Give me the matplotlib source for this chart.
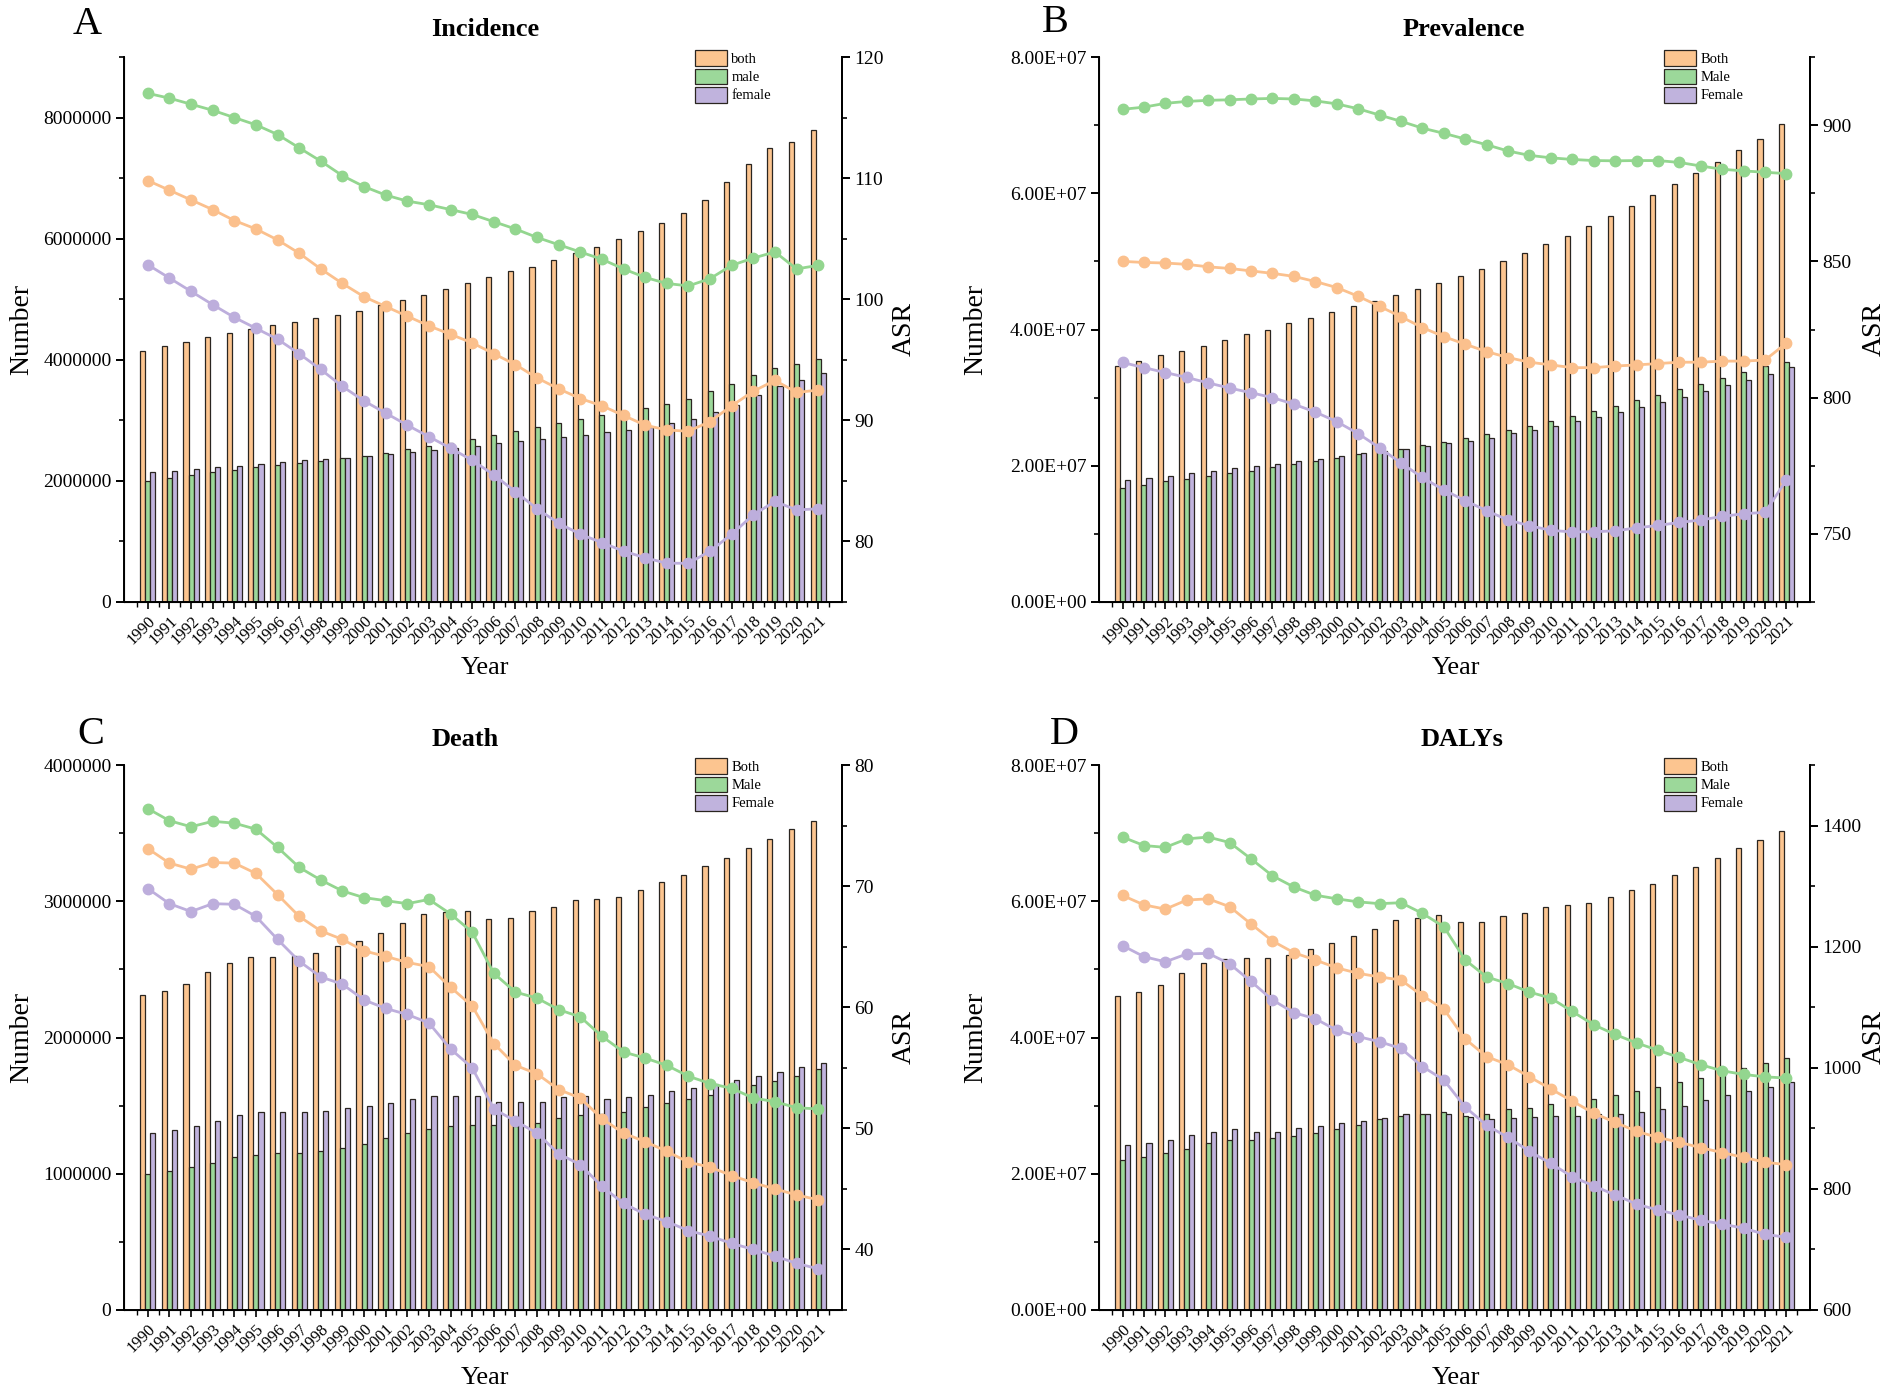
import numpy as np
import matplotlib
matplotlib.use("Agg")
import matplotlib.pyplot as plt
from matplotlib.patches import Patch
from matplotlib.ticker import MultipleLocator, FuncFormatter, FixedLocator

plt.rcParams['font.family'] = ['Liberation Serif', 'DejaVu Serif']

years = list(range(1990, 2022))

# ---------------- Incidence ----------------
inc_both_n = [4.15e6, 4.23e6, 4.30e6, 4.37e6, 4.44e6, 4.51e6, 4.57e6, 4.63e6, 4.69e6, 4.74e6,
              4.81e6, 4.90e6, 4.99e6, 5.07e6, 5.17e6, 5.27e6, 5.37e6, 5.46e6, 5.54e6, 5.64e6,
              5.76e6, 5.87e6, 5.99e6, 6.12e6, 6.26e6, 6.42e6, 6.64e6, 6.93e6, 7.23e6, 7.50e6,
              7.60e6, 7.80e6]
inc_male_n = [2.00e6, 2.05e6, 2.10e6, 2.14e6, 2.18e6, 2.23e6, 2.26e6, 2.30e6, 2.33e6, 2.37e6,
              2.41e6, 2.46e6, 2.52e6, 2.57e6, 2.63e6, 2.69e6, 2.76e6, 2.83e6, 2.89e6, 2.96e6,
              3.02e6, 3.08e6, 3.13e6, 3.20e6, 3.27e6, 3.36e6, 3.48e6, 3.60e6, 3.75e6, 3.87e6,
              3.93e6, 4.02e6]
inc_female_n = [2.14e6, 2.17e6, 2.20e6, 2.23e6, 2.25e6, 2.28e6, 2.31e6, 2.34e6, 2.36e6, 2.38e6,
                2.41e6, 2.45e6, 2.48e6, 2.51e6, 2.54e6, 2.58e6, 2.62e6, 2.66e6, 2.70e6, 2.73e6,
                2.76e6, 2.80e6, 2.84e6, 2.89e6, 2.95e6, 3.03e6, 3.13e6, 3.26e6, 3.42e6, 3.57e6,
                3.67e6, 3.78e6]
inc_both_asr = [109.8, 109.0, 108.2, 107.4, 106.5, 105.8, 104.9, 103.8, 102.5, 101.3,
                100.2, 99.4, 98.6, 97.8, 97.1, 96.4, 95.5, 94.6, 93.5, 92.6,
                91.8, 91.2, 90.4, 89.6, 89.2, 89.1, 89.9, 91.2, 92.4, 93.3,
                92.3, 92.5]
inc_male_asr = [117.0, 116.6, 116.1, 115.6, 115.0, 114.4, 113.6, 112.5, 111.4, 110.2,
                109.3, 108.6, 108.1, 107.8, 107.4, 107.0, 106.4, 105.8, 105.1, 104.5,
                103.9, 103.3, 102.5, 101.8, 101.3, 101.1, 101.7, 102.8, 103.4, 103.9,
                102.5, 102.8]
inc_female_asr = [102.85, 101.75, 100.65, 99.55, 98.5, 97.6, 96.7, 95.5, 94.2, 92.8,
                  91.6, 90.6, 89.6, 88.65, 87.7, 86.7, 85.5, 84.1, 82.7, 81.5,
                  80.6, 79.9, 79.2, 78.65, 78.2, 78.2, 79.2, 80.6, 82.2, 83.3,
                  82.6, 82.7]

# ---------------- Prevalence ----------------
prev_both_n = [3.47e7, 3.54e7, 3.62e7, 3.69e7, 3.76e7, 3.84e7, 3.93e7, 4.00e7, 4.09e7, 4.17e7,
               4.25e7, 4.34e7, 4.42e7, 4.50e7, 4.59e7, 4.68e7, 4.78e7, 4.89e7, 5.00e7, 5.12e7,
               5.25e7, 5.37e7, 5.52e7, 5.66e7, 5.82e7, 5.98e7, 6.14e7, 6.29e7, 6.46e7, 6.63e7,
               6.79e7, 7.01e7]
prev_male_n = [1.68e7, 1.72e7, 1.77e7, 1.81e7, 1.85e7, 1.89e7, 1.93e7, 1.98e7, 2.03e7, 2.07e7,
               2.11e7, 2.17e7, 2.22e7, 2.25e7, 2.31e7, 2.35e7, 2.41e7, 2.47e7, 2.53e7, 2.59e7,
               2.66e7, 2.73e7, 2.80e7, 2.88e7, 2.96e7, 3.04e7, 3.12e7, 3.20e7, 3.29e7, 3.38e7,
               3.47e7, 3.52e7]
prev_female_n = [1.79e7, 1.82e7, 1.85e7, 1.89e7, 1.92e7, 1.96e7, 1.99e7, 2.03e7, 2.07e7, 2.10e7,
                 2.14e7, 2.18e7, 2.22e7, 2.25e7, 2.29e7, 2.33e7, 2.37e7, 2.41e7, 2.48e7, 2.52e7,
                 2.58e7, 2.65e7, 2.71e7, 2.79e7, 2.86e7, 2.93e7, 3.01e7, 3.09e7, 3.18e7, 3.26e7,
                 3.35e7, 3.45e7]
prev_both_asr = [850.0, 849.6, 849.4, 848.9, 848.0, 847.4, 846.5, 845.6, 844.5, 842.6,
                 840.4, 837.2, 833.5, 829.7, 825.7, 822.4, 819.6, 816.9, 814.7, 813.0,
                 812.0, 811.0, 811.0, 811.6, 812.0, 812.5, 813.0, 813.0, 813.4, 813.4,
                 813.8, 820.0]
prev_male_asr = [905.8, 906.6, 908.0, 908.7, 909.1, 909.3, 909.6, 909.8, 909.6, 908.9,
                 907.8, 906.0, 903.7, 901.4, 898.9, 897.0, 894.9, 892.8, 890.5, 888.9,
                 888.0, 887.4, 887.0, 886.9, 887.0, 887.0, 886.3, 885.0, 883.8, 883.2,
                 882.7, 882.2]
prev_female_asr = [812.9, 811.0, 809.2, 807.4, 805.4, 803.5, 801.8, 800.0, 797.6, 794.7,
                   791.2, 786.8, 781.6, 776.0, 770.7, 766.1, 762.2, 758.5, 755.1, 753.0,
                   751.3, 750.7, 750.8, 751.1, 752.2, 753.1, 754.2, 755.1, 756.4, 757.4,
                   757.9, 769.8]

# ---------------- Death ----------------
death_both_n = [2.31e6, 2.34e6, 2.39e6, 2.48e6, 2.55e6, 2.59e6, 2.59e6, 2.60e6, 2.62e6, 2.67e6,
                2.71e6, 2.77e6, 2.84e6, 2.91e6, 2.92e6, 2.93e6, 2.87e6, 2.88e6, 2.93e6, 2.96e6,
                3.01e6, 3.02e6, 3.03e6, 3.08e6, 3.14e6, 3.19e6, 3.26e6, 3.32e6, 3.39e6, 3.46e6,
                3.53e6, 3.59e6]
death_male_n = [1.00e6, 1.02e6, 1.05e6, 1.08e6, 1.12e6, 1.14e6, 1.15e6, 1.155e6, 1.167e6, 1.19e6,
                1.22e6, 1.26e6, 1.30e6, 1.33e6, 1.35e6, 1.36e6, 1.36e6, 1.35e6, 1.37e6, 1.41e6,
                1.43e6, 1.44e6, 1.45e6, 1.49e6, 1.52e6, 1.55e6, 1.58e6, 1.61e6, 1.65e6, 1.68e6,
                1.72e6, 1.77e6]
death_female_n = [1.30e6, 1.32e6, 1.35e6, 1.39e6, 1.43e6, 1.45e6, 1.45e6, 1.45e6, 1.46e6, 1.48e6,
                  1.50e6, 1.52e6, 1.55e6, 1.57e6, 1.57e6, 1.57e6, 1.53e6, 1.53e6, 1.53e6, 1.56e6,
                  1.57e6, 1.55e6, 1.56e6, 1.58e6, 1.61e6, 1.63e6, 1.66e6, 1.69e6, 1.72e6, 1.75e6,
                  1.78e6, 1.81e6]
death_both_asr = [73.1, 71.9, 71.4, 71.95, 71.9, 71.05, 69.3, 67.5, 66.3, 65.6,
                  64.65, 64.2, 63.7, 63.35, 61.65, 60.1, 57.0, 55.2, 54.5, 53.2,
                  52.5, 50.8, 49.6, 48.9, 48.1, 47.2, 46.8, 46.1, 45.5, 45.0,
                  44.5, 44.1]
death_male_asr = [76.4, 75.4, 74.9, 75.35, 75.2, 74.7, 73.2, 71.55, 70.5, 69.6,
                  69.05, 68.8, 68.55, 68.9, 67.7, 66.2, 62.8, 61.25, 60.75, 59.8,
                  59.2, 57.6, 56.3, 55.8, 55.2, 54.3, 53.7, 53.3, 52.5, 52.2,
                  51.7, 51.6]
death_female_asr = [69.8, 68.55, 67.9, 68.55, 68.5, 67.5, 65.6, 63.8, 62.5, 61.9,
                    60.6, 59.9, 59.4, 58.7, 56.55, 55.0, 51.6, 50.6, 49.6, 47.9,
                    47.0, 45.2, 43.8, 42.9, 42.3, 41.55, 41.1, 40.5, 40.0, 39.45,
                    38.85, 38.4]

# ---------------- DALYs ----------------
daly_both_n = [4.61e7, 4.67e7, 4.77e7, 4.95e7, 5.09e7, 5.15e7, 5.16e7, 5.17e7, 5.21e7, 5.30e7,
               5.38e7, 5.49e7, 5.60e7, 5.73e7, 5.75e7, 5.80e7, 5.70e7, 5.70e7, 5.78e7, 5.83e7,
               5.92e7, 5.95e7, 5.97e7, 6.06e7, 6.16e7, 6.26e7, 6.38e7, 6.50e7, 6.64e7, 6.78e7,
               6.90e7, 7.03e7]
daly_male_n = [2.20e7, 2.25e7, 2.30e7, 2.37e7, 2.45e7, 2.50e7, 2.50e7, 2.52e7, 2.55e7, 2.60e7,
               2.65e7, 2.72e7, 2.80e7, 2.85e7, 2.87e7, 2.90e7, 2.85e7, 2.87e7, 2.95e7, 2.97e7,
               3.02e7, 3.05e7, 3.10e7, 3.15e7, 3.22e7, 3.27e7, 3.35e7, 3.40e7, 3.47e7, 3.55e7,
               3.62e7, 3.70e7]
daly_female_n = [2.42e7, 2.45e7, 2.50e7, 2.57e7, 2.62e7, 2.65e7, 2.62e7, 2.62e7, 2.67e7, 2.70e7,
                 2.75e7, 2.78e7, 2.82e7, 2.87e7, 2.88e7, 2.87e7, 2.83e7, 2.80e7, 2.82e7, 2.83e7,
                 2.85e7, 2.85e7, 2.87e7, 2.88e7, 2.90e7, 2.95e7, 3.00e7, 3.08e7, 3.15e7, 3.22e7,
                 3.28e7, 3.35e7]
daly_both_asr = [1284.5, 1269, 1262, 1277, 1279, 1266, 1237.5, 1209.4, 1190, 1178,
                 1165, 1156, 1150, 1145, 1119, 1097, 1047.6, 1018.4, 1005, 985,
                 965, 945, 925, 910, 895, 885, 877, 868, 860, 852,
                 844, 840]
daly_male_asr = [1381, 1367, 1364, 1378, 1381, 1372, 1345, 1317, 1298.5, 1285,
                 1279, 1274, 1271, 1272.6, 1255, 1233, 1178, 1150, 1139, 1125,
                 1115, 1093, 1071, 1055, 1041, 1029, 1017, 1005, 995, 989,
                 985, 983]
daly_female_asr = [1201.7, 1183.5, 1175, 1188, 1189, 1171.6, 1142.5, 1112, 1091, 1081,
                   1062, 1051.5, 1043, 1032, 1002, 980, 935, 905, 885, 862,
                   842, 820, 805, 790, 775, 765, 757, 748, 742, 735,
                   725, 720]

ORANGE_BAR = '#FCC590'
GREEN_BAR = '#9CD89A'
PURPLE_BAR = '#C0B3DD'
ORANGE_LN = '#FBC08D'
GREEN_LN = '#93D68F'
PURPLE_LN = '#BDAEDC'
EDGE = '#2a2520'

W, H = 1902, 1393
fig = plt.figure(figsize=(W / 100, H / 100), dpi=100)


def px_axes(x0, y0, x1, y1):
    return fig.add_axes([x0 / W, 1 - y1 / H, (x1 - x0) / W, (y1 - y0) / H])


def ftext(x, y, s, **kw):
    fig.text(x / W, 1 - y / H, s, ha='center', va='center', **kw)


def panel(box, both_n, male_n, female_n, both_a, male_a, female_a,
          ylim, ymaj, ymin, yfmt, rlim, rmaj, rmin, labels, title, letter,
          title_xy, letter_xy, num_xy, asr_xy, year_xy):
    ax = px_axes(*box)
    x = np.arange(len(years))
    bw = 0.235
    ax.bar(x - bw, both_n, bw, color=ORANGE_BAR, edgecolor=EDGE, linewidth=0.9, zorder=2)
    ax.bar(x, male_n, bw, color=GREEN_BAR, edgecolor=EDGE, linewidth=0.9, zorder=2)
    ax.bar(x + bw, female_n, bw, color=PURPLE_BAR, edgecolor=EDGE, linewidth=0.9, zorder=2)
    ax.set_xlim(-1.1, len(years) - 1 + 1.1)
    ax.set_ylim(*ylim)
    ax.yaxis.set_major_locator(MultipleLocator(ymaj))
    ax.yaxis.set_minor_locator(MultipleLocator(ymin))
    ax.yaxis.set_major_formatter(FuncFormatter(yfmt))
    ax.set_xticks(x)
    ax.set_xticklabels([str(y) for y in years], rotation=45, ha='right',
                       rotation_mode='anchor', fontsize=12)
    ax.xaxis.set_minor_locator(FixedLocator(np.arange(-0.5, len(years) + 0.5, 1.0)))
    ax.spines['top'].set_visible(False)
    for s in ['left', 'bottom', 'right']:
        ax.spines[s].set_linewidth(1.4)
    ax.tick_params(axis='y', which='major', labelsize=14, length=6, width=1.4,
                   direction='out', pad=3)
    ax.tick_params(axis='y', which='minor', length=3.5, width=1.2, direction='out')
    ax.tick_params(axis='x', which='major', length=5, width=1.2, direction='out', pad=3)
    ax.tick_params(axis='x', which='minor', length=3.5, width=1.0, direction='out')

    ax2 = ax.twinx()
    ax2.plot(x, both_a, color=ORANGE_LN, lw=2.0, marker='o', ms=7.5, zorder=3)
    ax2.plot(x, male_a, color=GREEN_LN, lw=2.0, marker='o', ms=7.5, zorder=3)
    ax2.plot(x, female_a, color=PURPLE_LN, lw=2.0, marker='o', ms=7.5, zorder=3)
    ax2.set_ylim(*rlim)
    ax2.yaxis.set_major_locator(MultipleLocator(rmaj))
    ax2.yaxis.set_minor_locator(MultipleLocator(rmin))
    ax2.spines['top'].set_visible(False)
    ax2.spines['right'].set_linewidth(1.4)
    ax2.tick_params(axis='y', which='major', labelsize=14, length=6, width=1.4,
                    direction='out', pad=3)
    ax2.tick_params(axis='y', which='minor', length=3.5, width=1.2, direction='out')

    handles = [Patch(facecolor=ORANGE_BAR, edgecolor=EDGE, linewidth=0.9),
               Patch(facecolor=GREEN_BAR, edgecolor=EDGE, linewidth=0.9),
               Patch(facecolor=PURPLE_BAR, edgecolor=EDGE, linewidth=0.9)]
    ax2.legend(handles, labels, loc='upper left', bbox_to_anchor=(0.795, 1.012),
               frameon=False, fontsize=10.5, handlelength=2.2, handleheight=1.3,
               labelspacing=0.15, handletextpad=0.3, borderpad=0, borderaxespad=0)

    ftext(*title_xy, title, fontsize=19, fontweight='bold')
    ftext(*letter_xy, letter, fontsize=29)
    ftext(*num_xy, 'Number', fontsize=20, rotation=90)
    ftext(*asr_xy, 'ASR', fontsize=20, rotation=90)
    ftext(*year_xy, 'Year', fontsize=19)
    return ax, ax2


int_fmt = lambda v, p: f"{int(round(v))}"
sci_fmt = lambda v, p: f"{v:.2E}"

panel((124, 57, 842, 602), inc_both_n, inc_male_n, inc_female_n,
      inc_both_asr, inc_male_asr, inc_female_asr,
      (0, 9e6), 2e6, 1e6, int_fmt, (75, 120), 10, 5,
      ['both', 'male', 'female'], 'Incidence', 'A',
      (485, 30), (87, 24), (22, 329), (904, 329), (485, 668))

panel((1099, 57, 1810, 602), prev_both_n, prev_male_n, prev_female_n,
      prev_both_asr, prev_male_asr, prev_female_asr,
      (0, 8e7), 2e7, 1e7, sci_fmt, (725, 925), 50, 25,
      ['Both', 'Male', 'Female'], 'Prevalence', 'B',
      (1464, 30), (1055, 23), (976, 329), (1874, 329), (1456, 668))

panel((124, 765, 842, 1310), death_both_n, death_male_n, death_female_n,
      death_both_asr, death_male_asr, death_female_asr,
      (0, 4e6), 1e6, 5e5, int_fmt, (35, 80), 10, 5,
      ['Both', 'Male', 'Female'], 'Death', 'C',
      (465, 739), (91, 734), (22, 1037), (904, 1037), (485, 1378))

panel((1099, 765, 1810, 1310), daly_both_n, daly_male_n, daly_female_n,
      daly_both_asr, daly_male_asr, daly_female_asr,
      (0, 8e7), 2e7, 1e7, sci_fmt, (600, 1500), 200, 100,
      ['Both', 'Male', 'Female'], 'DALYs', 'D',
      (1462, 739), (1064, 734), (976, 1037), (1874, 1037), (1456, 1378))

fig.savefig('out.png', dpi=100)
